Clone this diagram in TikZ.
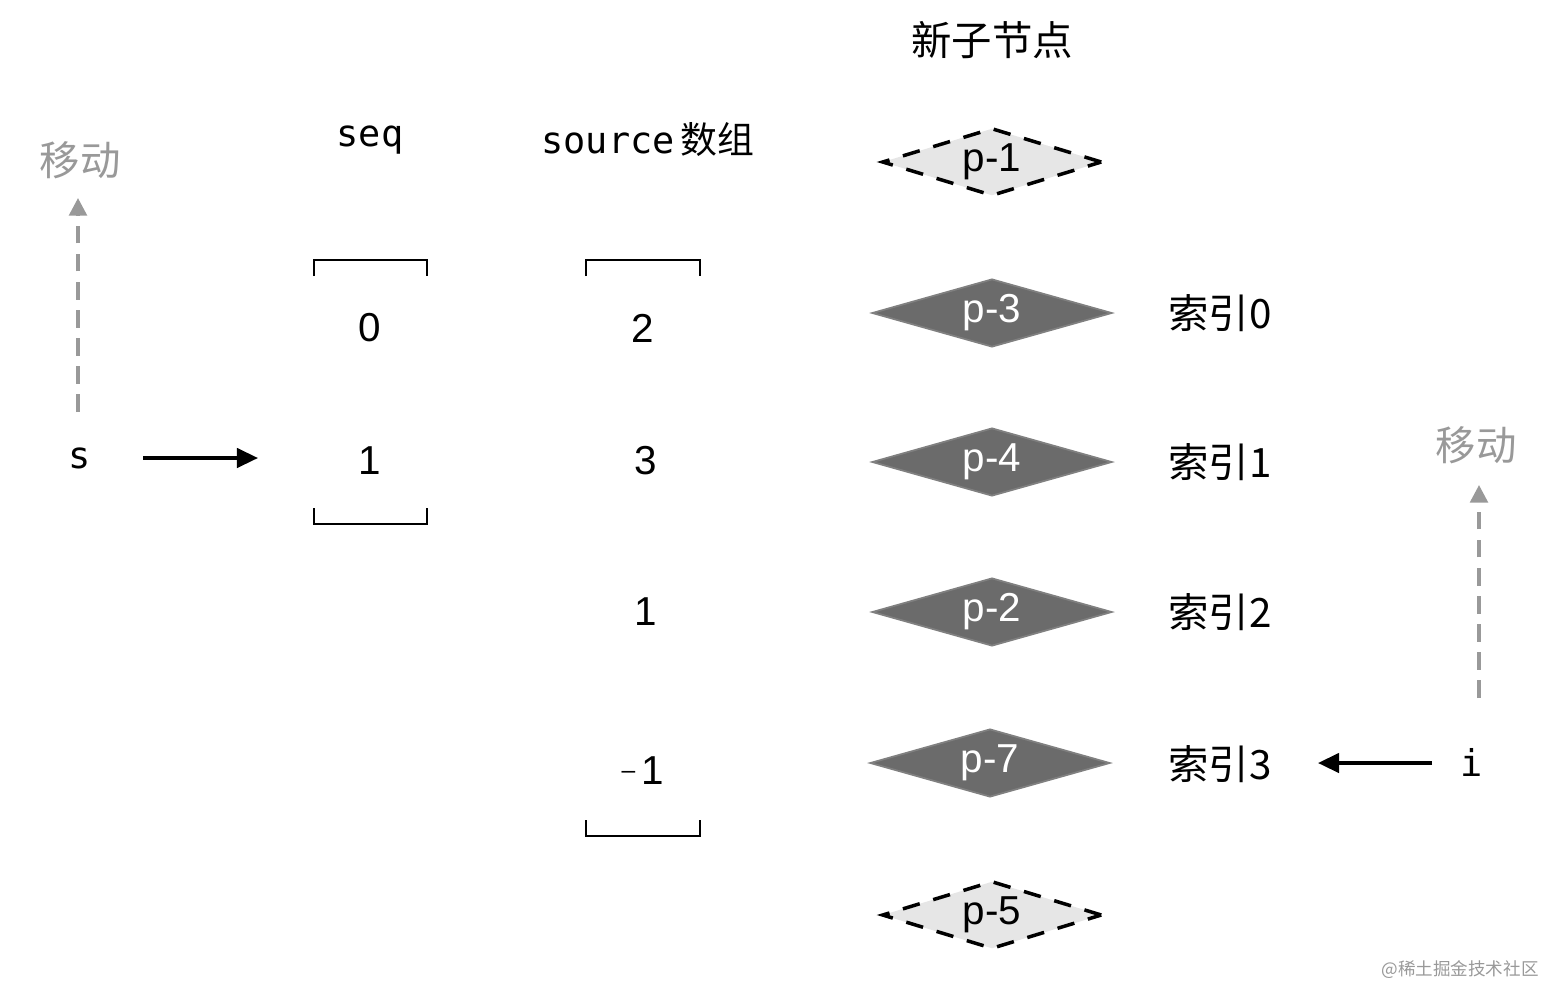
\documentclass[tikz,border=0pt]{standalone}
\usepackage{fontspec}
\setmainfont{Liberation Sans}
\newfontfamily\cjk{Noto Sans CJK SC}
\newfontfamily\mono{DejaVu Sans Mono}
\usetikzlibrary{shapes.geometric,arrows.meta}
\definecolor{darkd}{HTML}{6B6B6B}
\definecolor{lightd}{HTML}{E6E6E6}
\definecolor{movec}{HTML}{999999}
\begin{document}
\begin{tikzpicture}[x=0.02cm,y=-0.02cm,
  txt/.style={font=\fontsize{23}{26}\selectfont},
  ctxt/.style={font=\cjk\fontsize{23}{26}\selectfont},
  mtxt/.style={font=\mono\fontsize{21}{24}\selectfont},
  dnode/.style={diamond,aspect=3.5,inner sep=0pt,minimum width=4.8cm,minimum height=1.36cm,fill=darkd,draw=gray,line width=1pt,text=white,font=\fontsize{23}{26}\selectfont},
  lnode/.style={diamond,aspect=3.2,inner sep=0pt,minimum width=4.4cm,minimum height=1.36cm,fill=lightd,draw=black,line width=2pt,dash pattern=on 10pt off 8pt,font=\fontsize{23}{26}\selectfont},
  brk/.style={line width=1.3pt},
  marrow/.style={movec,line width=2pt,dash pattern=on 10pt off 6pt,-{Triangle[length=10pt,width=10pt]}},
  karrow/.style={black,line width=2pt,-{Triangle[length=12pt,width=11pt]}}]
\useasboundingbox (0,0) rectangle (1546,988);
\node[ctxt] (title) at (992,40) {新子节点};
\node[ctxt,text=movec] (mv1) at (80,160) {移动};
\coordinate (m1a) at (78,412); \coordinate (m1b) at (78,198);
\draw[marrow] (m1a) -- (m1b);
\node[mtxt] (s) at (80,458) {s};
\coordinate (sa) at (143,458); \coordinate (sb) at (258,458);
\draw[karrow] (sa) -- (sb);
\node[mtxt] (seq) at (370,140) {seq};
\draw[brk] (314,276) -- (314,260) -- (427,260) -- (427,276);
\draw[brk] (314,508) -- (314,524) -- (427,524) -- (427,508);
\node[txt] (q0) at (370,328) {0};
\node[txt] (q1) at (370,461) {1};
\node[mtxt] (src) at (648,140) {source\,{\cjk 数组}};
\draw[brk] (586,276) -- (586,260) -- (700,260) -- (700,276);
\draw[brk] (586,820) -- (586,836) -- (700,836) -- (700,820);
\node[txt] (v0) at (643,328) {2};
\node[txt] (v1) at (646,461) {3};
\node[txt] (v2) at (646,612) {1};
\node[txt] (v3) at (643,771) {\raisebox{0.3ex}{\fontsize{14}{14}\selectfont\textendash}\,1};
\node[lnode] (p1) at (992,162) {p-1};
\node[dnode] (p3) at (992,313) {p-3};
\node[dnode] (p4) at (992,462) {p-4};
\node[dnode] (p2) at (992,612) {p-2};
\node[dnode] (p7) at (990,763) {p-7};
\node[lnode] (p5) at (992,915) {p-5};
\node[ctxt] (i0) at (1220,313) {索引0};
\node[ctxt] (i1) at (1220,462) {索引1};
\node[ctxt] (i2) at (1220,612) {索引2};
\node[ctxt] (i3) at (1220,764) {索引3};
\node[ctxt,text=movec] (mv2) at (1476,445) {移动};
\coordinate (m2a) at (1479,698); \coordinate (m2b) at (1479,485);
\draw[marrow] (m2a) -- (m2b);
\node[mtxt] (ii) at (1472,762) {i};
\coordinate (ia) at (1432,763); \coordinate (ib) at (1318,763);
\draw[karrow] (ia) -- (ib);
\node[font=\cjk\fontsize{10}{12}\selectfont,text=movec] (wm) at (1460,970) {@稀土掘金技术社区};
\end{tikzpicture}
\end{document}
